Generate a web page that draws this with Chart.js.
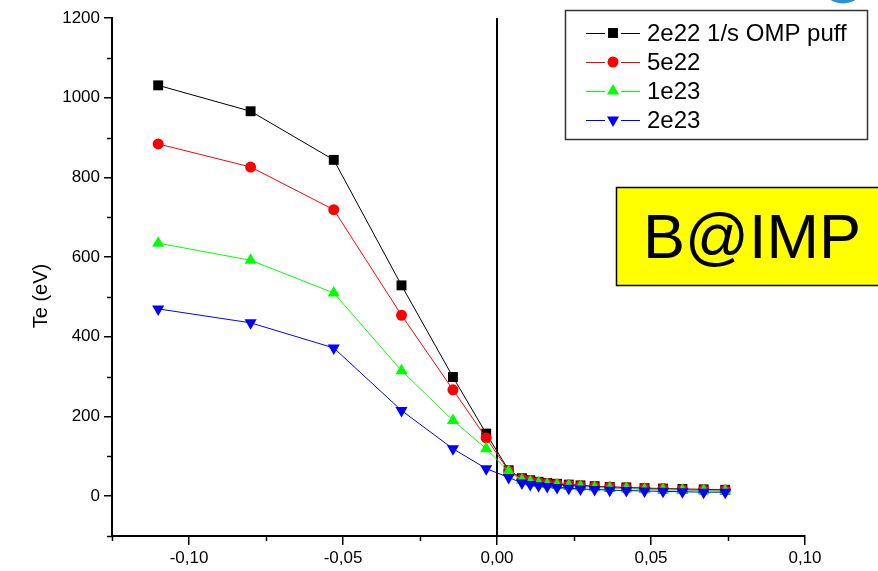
<!DOCTYPE html>
<html>
<head>
<meta charset="utf-8">
<script src="https://cdn.jsdelivr.net/npm/chart.js@4/dist/chart.umd.min.js"></script>
<style>
  html, body { margin: 0; padding: 0; background: #fff; }
  #wrap { width: 878px; height: 571px; position: relative; }
</style>
</head>
<body>
<div id="wrap"><canvas id="c" width="878" height="571"></canvas></div>
<script>
// Radial positions (m) shared by all four puff-rate scans
const positions = [-0.110, -0.080, -0.053, -0.031, -0.0143, -0.0035, 0.0038, 0.0081, 0.0108, 0.0135,
                   0.0163, 0.0195, 0.0233, 0.0271, 0.0317, 0.0366, 0.0420, 0.0479, 0.0539, 0.0602,
                   0.0671, 0.0741];

// Electron temperature (eV) for each puff rate
const te2e22 = [1031, 966, 844, 529, 299, 157, 65, 45, 40, 36, 33, 31, 29, 27, 25, 23, 22, 20, 19, 18, 17, 16];
const te5e22 = [884, 826, 719, 454, 267, 146, 63, 43, 38, 35, 32, 30, 28, 26, 24, 23, 21, 20, 19, 17, 16, 15];
const te1e23 = [635, 592, 510, 315, 190, 119, 62, 40, 36, 33, 30, 28, 26, 24, 22, 20, 19, 17, 16, 15, 14, 13];
const te2e23 = [470, 435, 372, 215, 119, 69, 47, 33, 29, 26, 24, 22, 20, 18, 17, 15, 14, 13, 12, 11, 10, 10];

const seriesNames = ['2e22 1/s OMP puff', '5e22', '1e23', '2e23'];

// Axis ticks
const xTickValues = [-0.10, -0.05, 0.00, 0.05, 0.10];
const xMinorTicks = [-0.125, -0.075, -0.025, 0.025, 0.075];
const yTickValues = [0, 200, 400, 600, 800, 1000, 1200];
const yMinorTicks = [-100, 100, 300, 500, 700, 900, 1100];

const yTitle = 'Te (eV)';
const boxLabel = 'B@IMP';

const FONT = '"Liberation Sans", Arial, Helvetica, sans-serif';

function pts(values) {
  return values.map((v, i) => ({ x: positions[i], y: v }));
}

const styles = [
  { color: '#000000', pointStyle: 'rect',     radius: 7,   rotation: 0 },
  { color: '#ff0000', pointStyle: 'circle',   radius: 5.5, rotation: 0 },
  { color: '#00ff00', pointStyle: 'triangle', radius: 7,   rotation: 0 },
  { color: '#0000ff', pointStyle: 'triangle', radius: 7,   rotation: 180 }
];
const seriesValues = [te2e22, te5e22, te1e23, te2e23];

const datasets = seriesValues.map((vals, i) => ({
  label: seriesNames[i],
  data: pts(vals),
  showLine: true,
  borderColor: styles[i].color,
  backgroundColor: styles[i].color,
  borderWidth: 1,
  pointStyle: styles[i].pointStyle,
  pointRadius: styles[i].radius,
  pointRotation: styles[i].rotation,
  pointBorderWidth: 0,
  pointHoverRadius: styles[i].radius,
  order: 3 - i
}));

// Minor ticks, axis title, the x = 0 line, legend box and the annotation label
const decorations = {
  id: 'decorations',
  beforeDatasetsDraw(chart) {
    const { ctx, chartArea, scales } = chart;
    const x0 = scales.x.getPixelForValue(0);
    ctx.save();
    ctx.strokeStyle = '#000';
    ctx.lineWidth = 2;
    ctx.beginPath();
    ctx.moveTo(x0, chartArea.top);
    ctx.lineTo(x0, chartArea.bottom);
    ctx.stroke();
    ctx.restore();
  },
  afterDraw(chart) {
    const { ctx, chartArea, scales } = chart;
    ctx.save();
    // minor ticks
    ctx.strokeStyle = '#000';
    ctx.lineWidth = 1.5;
    ctx.beginPath();
    yMinorTicks.forEach(v => {
      const y = Math.round(scales.y.getPixelForValue(v)) + 0.5;
      ctx.moveTo(chartArea.left - 5, y);
      ctx.lineTo(chartArea.left, y);
    });
    xMinorTicks.forEach(v => {
      const x = Math.round(scales.x.getPixelForValue(v)) + 0.5;
      ctx.moveTo(x, chartArea.bottom);
      ctx.lineTo(x, chartArea.bottom + 5);
    });
    ctx.stroke();

    // y-axis title
    ctx.save();
    ctx.translate(41, 296);
    ctx.rotate(-Math.PI / 2);
    ctx.fillStyle = '#000';
    ctx.font = '20px ' + FONT;
    ctx.textAlign = 'center';
    ctx.textBaseline = 'middle';
    ctx.fillText(yTitle, 0, 0);
    ctx.restore();

    // logo fragment at the top-right corner
    ctx.fillStyle = '#2b8fd3';
    ctx.beginPath();
    ctx.ellipse(843, -19, 23, 22.5, 0, 0, Math.PI * 2);
    ctx.fill();

    // legend
    const lx = 565, ly = 10, lw = 302, lh = 129;
    ctx.fillStyle = '#fff';
    ctx.fillRect(lx, ly, lw, lh);
    ctx.strokeStyle = '#333';
    ctx.lineWidth = 1.5;
    ctx.strokeRect(lx + 0.5, ly + 0.5, lw, lh);
    const rows = [33, 62, 91, 120];
    chart.data.datasets.forEach((ds, i) => {
      const y = rows[i];
      ctx.strokeStyle = ds.borderColor;
      ctx.lineWidth = 1;
      ctx.beginPath();
      ctx.moveTo(586, y + 0.5); ctx.lineTo(605, y + 0.5);
      ctx.moveTo(621, y + 0.5); ctx.lineTo(640, y + 0.5);
      ctx.stroke();
      ctx.fillStyle = ds.backgroundColor;
      Chart.helpers.drawPoint(ctx, {
        pointStyle: ds.pointStyle,
        radius: ds.pointRadius,
        rotation: ds.pointRotation,
        borderWidth: 0
      }, 613, y);
      ctx.fillStyle = '#000';
      ctx.font = '24px ' + FONT;
      ctx.textBaseline = 'middle';
      ctx.textAlign = 'left';
      ctx.fillText(ds.label, 647, y + 1);
    });

    // annotation box
    ctx.fillStyle = '#ffff00';
    ctx.fillRect(616, 187, 300, 99);
    ctx.strokeStyle = '#000';
    ctx.lineWidth = 1.5;
    ctx.strokeRect(616.5, 187.5, 300, 98);
    ctx.fillStyle = '#000';
    ctx.font = '63px ' + FONT;
    ctx.textBaseline = 'alphabetic';
    ctx.textAlign = 'left';
    ctx.fillText(boxLabel, 643, 258);
    ctx.restore();
  }
};

const fmt = v => (Math.abs(v) < 1e-9 ? 0 : v).toFixed(2).replace('.', ',');

new Chart(document.getElementById('c'), {
  type: 'scatter',
  data: { datasets },
  plugins: [decorations],
  options: {
    responsive: false,
    animation: false,
    devicePixelRatio: 1,
    layout: { padding: { left: 0, right: 73, top: 18, bottom: 0 } },
    plugins: { legend: { display: false }, tooltip: { enabled: false } },
    scales: {
      x: {
        type: 'linear',
        min: -0.125,
        max: 0.10,
        afterBuildTicks: s => { s.ticks = xTickValues.map(v => ({ value: v })); },
        afterFit: s => { s.height = 35; },
        ticks: {
          autoSkip: false,
          maxRotation: 0,
          color: '#000',
          padding: 3,
          font: { family: FONT, size: 17 },
          callback: v => fmt(v)
        },
        grid: { drawOnChartArea: false, drawTicks: true, tickLength: 9, color: '#000', lineWidth: 1.5 },
        border: { display: true, color: '#000', width: 2 }
      },
      y: {
        type: 'linear',
        min: -100,
        max: 1200,
        afterBuildTicks: s => { s.ticks = yTickValues.map(v => ({ value: v })); },
        afterFit: s => { s.width = 112; },
        ticks: {
          autoSkip: false,
          color: '#000',
          padding: 4,
          font: { family: FONT, size: 17 },
          callback: v => String(v)
        },
        grid: { drawOnChartArea: false, drawTicks: true, tickLength: 8, color: '#000', lineWidth: 1.5 },
        border: { display: true, color: '#000', width: 2 }
      }
    }
  }
});
</script>
</body>
</html>
